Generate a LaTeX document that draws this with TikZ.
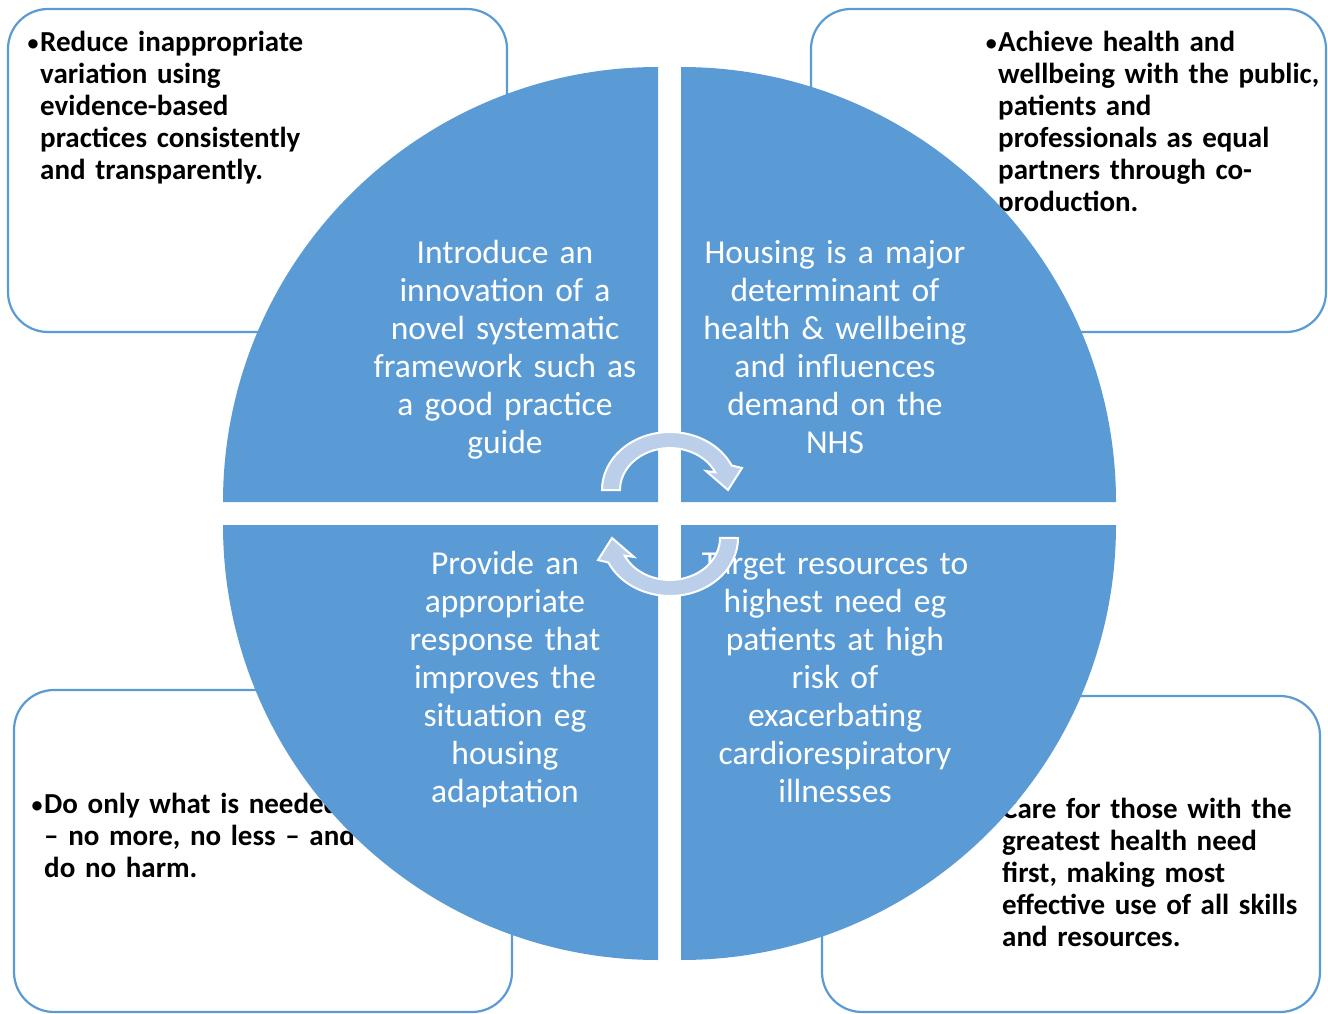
\documentclass[tikz,border=0pt]{standalone}
\usepackage{fontspec}
\setmainfont{Carlito}
\definecolor{quad}{RGB}{91,155,213}
\definecolor{arrowfill}{RGB}{187,206,234}
\newcommand{\notebullet}{\llap{\raisebox{1pt}{\fontsize{22}{22}\selectfont •}\hspace{1.5pt}}}
\newcommand{\notefont}{\bfseries\fontsize{29}{32}\selectfont\spaceskip=4.6pt plus 1pt minus 0.5pt\relax}
\begin{document}
\begin{tikzpicture}[x=1pt,y=-1pt,
  panel/.style={draw=quad, line width=2.2pt, fill=white, rounded corners=40pt},
  note/.style={anchor=base west, inner sep=0pt, text width=420pt, align=left,
    font=\notefont},
  quadtext/.style={anchor=base, inner sep=0pt, text width=340pt, align=center,
    text=white, font=\fontsize{33.5}{38}\selectfont},
  cycarrow/.style={fill=arrowfill, draw=white, line width=2pt, line join=miter}]
\useasboundingbox (0,0) rectangle (1328,1014);

% outer rounded panels
\draw[panel] (8,9) rectangle (507,332);
\draw[panel] (811,9) rectangle (1326,332);
\draw[panel] (14,690) rectangle (512,1012);
\draw[panel] (822,696) rectangle (1320,1012);

% panel texts
\node[note] (n1) at (40,52) {\notebullet Reduce inappropriate\\variation using\\evidence-based\\practices consistently\\and transparently.};
\node[note] (n2) at (998,52) {\notebullet Achieve health and\\wellbeing with the public,\\patients and\\professionals as equal\\partners through co-\\production.};
\node[note] (n3) at (44,813) {\notebullet Do only what is needed\\– no more, no less – and\\do no harm.};
\node[note] (n4) at (1002,818) {\notebullet Care for those with the\\greatest health need\\first, making most\\effective use of all skills\\and resources.};

% four quarter discs
\fill[quad] (658,502) -- (223,502) arc[start angle=180, end angle=270, radius=435] -- cycle;
\fill[quad] (681,502) -- (681,67) arc[start angle=270, end angle=360, radius=435] -- cycle;
\fill[quad] (681,525) -- (1116,525) arc[start angle=0, end angle=90, radius=435] -- cycle;
\fill[quad] (658,525) -- (658,960) arc[start angle=90, end angle=180, radius=435] -- cycle;

% quarter texts
\node[quadtext] (q1) at (505,263) {Introduce an\\innovation of a\\novel systematic\\framework such as\\a good practice\\guide};
\node[quadtext] (q2) at (835,263) {Housing is a major\\determinant of\\health \& wellbeing\\and influences\\demand on the\\NHS};
\node[quadtext] (q3) at (505,574) {Provide an\\appropriate\\response that\\improves the\\situation eg\\housing\\adaptation};
\node[quadtext] (q4) at (835,574) {Target resources to\\highest need eg\\patients at high\\risk of\\exacerbating\\cardiorespiratory\\illnesses};

% cycle arrows in the middle
\begin{scope}[shift={(670,490)}]
  \path[cycarrow] (-68,0) arc[start angle=180, end angle=335, x radius=68, y radius=58]
    -- (72,-22) -- (58,0) -- (36,-19) -- (45.3,-17.7)
    arc[start angle=335, end angle=180, x radius=50, y radius=42] -- cycle;
\end{scope}
\begin{scope}[shift={(670,538)}, rotate=180]
  \path[cycarrow] (-68,0) arc[start angle=180, end angle=335, x radius=68, y radius=58]
    -- (72,-22) -- (58,0) -- (36,-19) -- (45.3,-17.7)
    arc[start angle=335, end angle=180, x radius=50, y radius=42] -- cycle;
\end{scope}
\end{tikzpicture}
\end{document}
